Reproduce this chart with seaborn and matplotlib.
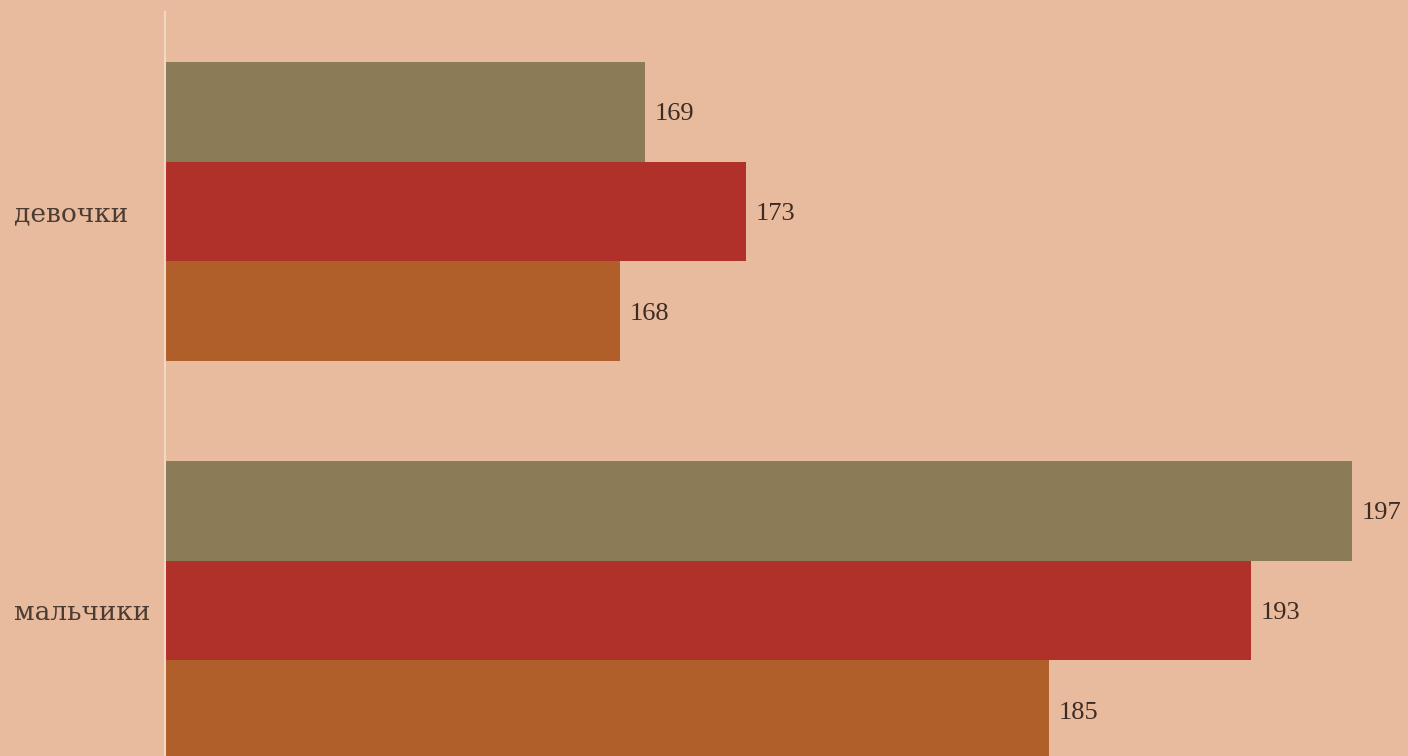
import matplotlib
matplotlib.use("Agg")
import matplotlib.pyplot as plt
import seaborn as sns
import pandas as pd

categories = ["девочки", "мальчики"]
series_names = ["Ряд 1", "Ряд 2", "Ряд 3"]
series_1 = [169, 197]
series_2 = [173, 193]
series_3 = [168, 185]
colors = ["#8B7B57", "#B03129", "#B05E2A"]

bg = "#E8BB9E"
text_color = "#3d2b22"

rows = []
for name, vals in zip(series_names, [series_1, series_2, series_3]):
    for cat, v in zip(categories, vals):
        rows.append({"category": cat, "series": name, "value": v})
df = pd.DataFrame(rows)

sns.set_style("white")
plt.rcParams["font.family"] = ["Liberation Serif", "DejaVu Serif"]

fig = plt.figure(figsize=(14.08, 7.56), dpi=100)
fig.patch.set_facecolor(bg)
ax = fig.add_axes([165 / 1408, 0, 1 - 165 / 1408, 1 - 12 / 756])
ax.set_facecolor(bg)

sns.barplot(data=df, y="category", x="value", hue="series", order=categories,
            hue_order=series_names, palette=colors, orient="h", width=0.75,
            saturation=1, legend=False, ax=ax, linewidth=0)

ax.set_xlim(150, 150 + 1243 / 25.25)
ax.set_ylim(1.365, -0.5)
for c in ax.containers:
    labels = ax.bar_label(c, padding=7, fontsize=19, color=text_color)
    for t in labels:
        t.set_verticalalignment("center_baseline")

ax.set_xlabel("")
ax.set_ylabel("")
ax.set_xticks([])
for s in ["top", "right", "bottom"]:
    ax.spines[s].set_visible(False)
ax.spines["left"].set_color("#F3D6C3")
ax.spines["left"].set_linewidth(1.5)
ax.tick_params(axis="y", length=0, pad=151 * 72 / 100)
for lab in ax.get_yticklabels():
    lab.set_horizontalalignment("left")
    lab.set_fontsize(19)
    lab.set_family(["DejaVu Serif"])
    lab.set_color("#4a3c33")

fig.savefig("out.png", dpi=100, facecolor=bg)
